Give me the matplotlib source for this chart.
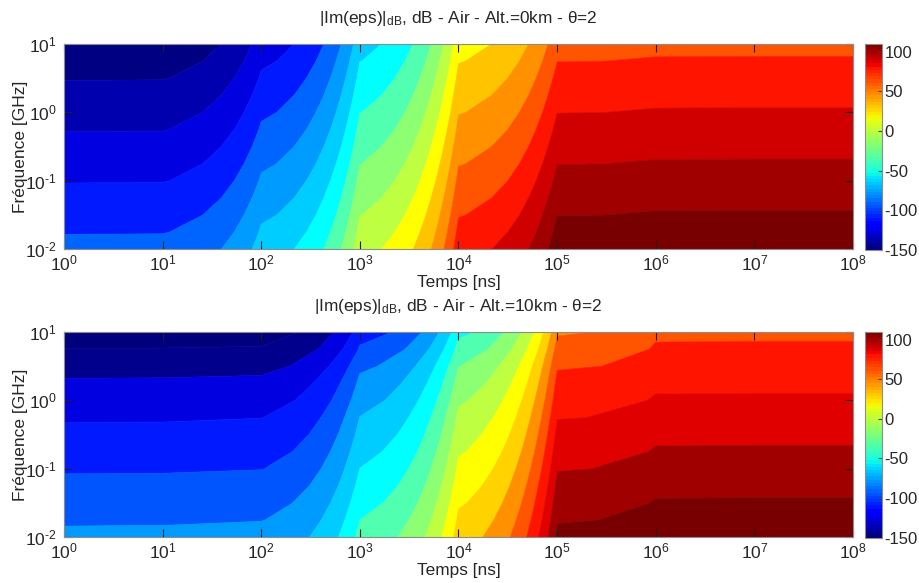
import numpy as np
import matplotlib
matplotlib.use('Agg')
import matplotlib.pyplot as plt
from matplotlib.cm import ScalarMappable
from matplotlib.colors import Normalize

plt.rcParams['font.family'] = ['Liberation Sans', 'DejaVu Sans']
plt.rcParams['mathtext.fontset'] = 'custom'
plt.rcParams['mathtext.rm'] = 'Liberation Sans'
plt.rcParams['mathtext.it'] = 'Liberation Sans'
plt.rcParams['mathtext.bf'] = 'Liberation Sans'

temps = [1e0, 1e1, 1e2, 1e3, 1e4, 1e5, 1e6, 1e7, 1e8]
freq = [0.01, 0.01778, 0.03162, 0.05623, 0.1, 0.1778, 0.3162, 0.5623, 1.0, 1.778, 3.162, 5.623, 10.0]
freq_ticks = [0.01, 0.1, 1, 10]
freq_labels = [r'$10^{\text{-}2}$', r'$10^{\text{-}1}$', r'$10^{0}$', r'$10^{1}$']
cbar_ticks = [-150, -100, -50, 0, 50, 100]
cbar_labels = ['-150', '-100', '-50', '0', '50', '100']

# one row per time decade, one column per frequency
z_0km = [
    [-100.8, -105.8, -110.8, -115.8, -120.8, -125.8, -130.8, -135.8, -140.8, -145.8, -150.8, -155.8, -160.8],
    [-100.6, -105.6, -110.6, -115.6, -120.6, -125.6, -130.6, -135.6, -140.6, -145.6, -150.6, -155.6, -160.6],
    [-68.0, -73.0, -78.0, -83.0, -88.0, -93.0, -98.0, -103.0, -108.0, -113.0, -118.0, -123.0, -128.0],
    [-5.4, -10.4, -15.4, -20.4, -25.4, -30.4, -35.4, -40.4, -45.4, -50.4, -55.4, -60.4, -65.4],
    [69.1, 64.1, 59.1, 54.1, 49.1, 44.1, 39.1, 34.1, 29.1, 24.1, 19.1, 14.1, 9.1],
    [114.7, 109.7, 104.7, 99.7, 94.7, 89.7, 84.7, 79.7, 74.7, 69.7, 64.7, 59.7, 54.7],
    [116.0, 111.0, 106.0, 101.0, 96.0, 91.0, 86.0, 81.0, 76.0, 71.0, 66.0, 61.0, 56.0],
    [116.1, 111.1, 106.1, 101.1, 96.1, 91.1, 86.1, 81.1, 76.1, 71.1, 66.1, 61.1, 56.1],
    [116.1, 111.1, 106.1, 101.1, 96.1, 91.1, 86.1, 81.1, 76.1, 71.1, 66.1, 61.1, 56.1],
]
z_10km = [
    [-87.2, -92.1, -97.0, -101.9, -106.8, -111.8, -116.8, -121.9, -127.5, -133.2, -140.9, -149.8, -158.6],
    [-87.0, -91.9, -96.8, -101.7, -106.6, -111.6, -116.6, -121.7, -127.3, -133.0, -140.7, -149.6, -158.4],
    [-85.6, -90.5, -95.5, -100.5, -105.4, -110.4, -115.3, -120.3, -126.1, -131.9, -139.8, -149.0, -157.0],
    [-40.1, -45.0, -50.0, -55.0, -59.9, -64.8, -69.8, -74.8, -80.6, -86.4, -93.6, -103.3, -112.8],
    [22.7, 17.8, 12.9, 8.0, 3.1, -1.9, -6.9, -11.9, -17.5, -23.9, -30.5, -40.0, -49.6],
    [108.6, 103.7, 98.8, 93.9, 89.0, 84.1, 79.2, 74.2, 69.1, 64.0, 58.3, 50.6, 42.8],
    [115.8, 110.9, 106.0, 101.1, 96.2, 91.3, 86.4, 81.5, 76.5, 71.6, 66.6, 61.7, 56.7],
    [116.0, 111.1, 106.2, 101.3, 96.4, 91.5, 86.6, 81.7, 76.7, 71.8, 66.8, 61.9, 56.9],
    [116.0, 111.1, 106.2, 101.3, 96.4, 91.5, 86.6, 81.7, 76.7, 71.8, 66.8, 61.9, 56.9],
]

levels = [-200, -150, -135, -120, -105, -90, -75, -60, -45, -30, -15, 0, 15, 30, 45, 60, 75, 90, 105, 200]
colors_0km = ['#000082', '#0000af', '#0000e1', '#0019ff', '#0064ff', '#009bff', '#00cdff', '#00ffff', '#50ffaf',
              '#8cff73', '#beff41', '#ffff00', '#ffc300', '#ff9100', '#ff5500', '#ff1400', '#d00000', '#a00000', '#780000']
colors_10km = ['#00007d', '#00008c', '#0000e1', '#0019ff', '#0055ff', '#009bff', '#00cdff', '#00ffff', '#50ffaf',
               '#8cff73', '#beff41', '#ffff00', '#ffd200', '#ff9100', '#ff5500', '#ff1400', '#e10000', '#a00000', '#780000']
titles = [r'|Im(eps)|$_{\mathrm{dB}}$, dB - Air - Alt.=0km - $\theta$=2',
          r'|Im(eps)|$_{\mathrm{dB}}$, dB - Air - Alt.=10km - $\theta$=2']

W, H = 920, 583
text_col = '#262626'
edge_col = '#8c8c8c'
fig = plt.figure(figsize=(W / 100, H / 100), dpi=100)


def panel(z, colors, title, top, bottom):
    h = bottom - top
    ax = fig.add_axes([64 / W, 1 - bottom / H, 789 / W, h / H])
    cs = ax.contourf(temps, freq, np.array(z).T, levels=levels, colors=colors)
    cs.set_edgecolor('face')
    cs.set_linewidth(0.4)
    cs.set_antialiased(True)
    ax.set_xscale('log')
    ax.set_yscale('log')
    ax.set_xlim(1, 1e8)
    ax.set_ylim(0.01, 10)
    ax.set_xticks(temps)
    ax.set_yticks(freq_ticks)
    ax.set_yticklabels(freq_labels)
    ax.minorticks_off()
    ax.tick_params(direction='in', length=6, width=0.8, top=True, right=True, color='#202020',
                   labelsize=12.5, labelcolor=text_col, pad=5)
    ax.tick_params(axis='x', pad=3)
    for s in ax.spines.values():
        s.set_color(edge_col)
    ax.set_xlabel('Temps [ns]', fontsize=12.4, color=text_col)
    ax.xaxis.set_label_coords(0.5, -26 / h)
    ax.set_ylabel('Fréquence [GHz]', fontsize=12.5, color=text_col)
    ax.yaxis.set_label_coords(-36 / 789, 0.5)
    ax.set_title(title, fontsize=12.4, color=text_col, pad=15)

    cax = fig.add_axes([865 / W, 1 - (bottom + 0.5) / H, 17.3 / W, (bottom + 0.5 - top) / H])
    sm = ScalarMappable(norm=Normalize(-150, 110), cmap=plt.get_cmap('jet', 64))
    cb = fig.colorbar(sm, cax=cax)
    cb.set_ticks(cbar_ticks, labels=cbar_labels)
    cb.ax.tick_params(direction='in', length=3, width=0.8, color='#404040', labelsize=12,
                      labelcolor=text_col, pad=1.5)
    cb.outline.set_edgecolor(edge_col)


panel(z_0km, colors_0km, titles[0], 44, 249.3)
panel(z_10km, colors_10km, titles[1], 332, 537)

fig.savefig('out.png', dpi=100)
